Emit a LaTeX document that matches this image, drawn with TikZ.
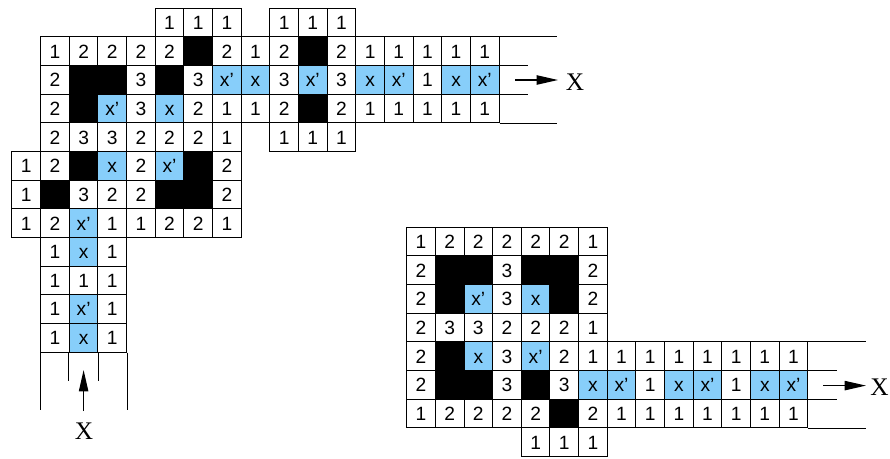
\documentclass[tikz,border=0pt]{standalone}
\usepackage{fontspec}
\setmainfont{Liberation Sans}
\newfontfamily\serifX{Liberation Serif}
\usetikzlibrary{arrows.meta}
\definecolor{cellblue}{RGB}{135,206,250}
\begin{document}
\begin{tikzpicture}[x=0.75pt,y=-0.75pt,
  cellbase/.style={draw=black, line width=0.75pt, minimum width=21.49pt, minimum height=21.49pt,
    inner sep=0pt, text height=10.3pt, text depth=0pt, font=\fontsize{14.4}{15}\selectfont},
  num/.style={cellbase, fill=white},
  blk/.style={cellbase, fill=black},
  blu/.style={cellbase, fill=cellblue},
  tail/.style={line width=0.75pt},
  arr/.style={line width=0.9pt, -{Triangle[length=16pt,width=7pt]}},
  lab/.style={font=\serifX\fontsize{19}{20}\selectfont, inner sep=0pt, text height=12.6pt, text depth=0pt}]
\useasboundingbox (0,0) rectangle (890,458);
% ---------- left figure ----------
\foreach \r/\c/\t in {0/5/1,0/6/1,0/7/1,0/9/1,0/10/1,0/11/1,
  1/1/1,1/2/2,1/3/2,1/4/2,1/5/2,1/7/2,1/8/1,1/9/2,1/11/2,1/12/1,1/13/1,1/14/1,1/15/1,1/16/1,
  2/1/2,2/4/3,2/6/3,2/9/3,2/11/3,2/14/1,
  3/1/2,3/4/3,3/6/2,3/7/1,3/8/1,3/9/2,3/11/2,3/12/1,3/13/1,3/14/1,3/15/1,3/16/1,
  4/1/2,4/2/3,4/3/3,4/4/2,4/5/2,4/6/2,4/7/1,4/9/1,4/10/1,4/11/1,
  5/0/1,5/1/2,5/4/2,5/7/2,
  6/0/1,6/2/3,6/3/2,6/4/2,6/7/2,
  7/0/1,7/1/2,7/3/1,7/4/1,7/5/2,7/6/2,7/7/1,
  8/1/1,8/3/1,9/1/1,9/2/1,9/3/1,10/1/1,10/3/1,11/1/1,11/3/1}
  \node[num] (L-\r-\c) at ({12+28.65*(\c+0.5)},{8.3+28.65*(\r+0.5)}) {\t};
\foreach \r/\c in {1/6,1/10,2/2,2/3,2/5,3/2,3/10,5/2,5/6,6/1,6/5,6/6}
  \node[blk] (L-\r-\c) at ({12+28.65*(\c+0.5)},{8.3+28.65*(\r+0.5)}) {};
\foreach \r/\c/\t in {2/7/x’,2/8/x,2/10/x’,2/12/x,2/13/x’,2/15/x,2/16/x’,3/3/x’,3/5/x,
  5/3/x,5/5/x’,7/2/x’,8/2/x,10/2/x’,11/2/x}
  \node[blu] (L-\r-\c) at ({12+28.65*(\c+0.5)},{8.3+28.65*(\r+0.5)}) {\t};
% tails
\draw[tail] (L-1-16.north east) -- ++(57.3,0);
\draw[tail] (L-2-16.north east) -- ++(28.65,0);
\draw[tail] (L-2-16.south east) -- ++(28.65,0);
\draw[tail] (L-3-16.south east) -- ++(57.3,0);
\draw[tail] (L-11-1.south west) -- ++(0,57.3);
\draw[tail] (L-11-2.south west) -- ++(0,28.65);
\draw[tail] (L-11-2.south east) -- ++(0,28.65);
\draw[tail] (L-11-3.south east) -- ++(0,57.3);
% arrows
\coordinate (a1s) at (515,80);
\coordinate (a1e) at (558,80);
\draw[arr] (a1s) -- (a1e);
\node[lab] (X1) at (575,82) {X};
\coordinate (a2s) at (83.6,411);
\coordinate (a2e) at (83.6,370);
\draw[arr] (a2s) -- (a2e);
\node[lab] (X2) at (84,431.5) {X};
% ---------- right figure ----------
\foreach \r/\c/\t in {0/0/1,0/1/2,0/2/2,0/3/2,0/4/2,0/5/2,0/6/1,
  1/0/2,1/3/3,1/6/2,
  2/0/2,2/3/3,2/6/2,
  3/0/2,3/1/3,3/2/3,3/3/2,3/4/2,3/5/2,3/6/1,
  4/0/2,4/3/3,4/5/2,4/6/1,4/7/1,4/8/1,4/9/1,4/10/1,4/11/1,4/12/1,4/13/1,
  5/0/2,5/3/3,5/5/3,5/8/1,5/11/1,
  6/0/1,6/1/2,6/2/2,6/3/2,6/4/2,6/6/2,6/7/1,6/8/1,6/9/1,6/10/1,6/11/1,6/12/1,6/13/1,
  7/4/1,7/5/1,7/6/1}
  \node[num] (R-\r-\c) at ({406.7+28.65*(\c+0.5)},{227.3+28.65*(\r+0.5)}) {\t};
\foreach \r/\c in {1/1,1/2,1/4,1/5,2/1,2/5,4/1,5/1,5/2,5/4,6/5}
  \node[blk] (R-\r-\c) at ({406.7+28.65*(\c+0.5)},{227.3+28.65*(\r+0.5)}) {};
\foreach \r/\c/\t in {2/2/x’,2/4/x,4/2/x,4/4/x’,5/6/x,5/7/x’,5/9/x,5/10/x’,5/12/x,5/13/x’}
  \node[blu] (R-\r-\c) at ({406.7+28.65*(\c+0.5)},{227.3+28.65*(\r+0.5)}) {\t};
\draw[tail] (R-4-13.north east) -- ++(57.3,0);
\draw[tail] (R-5-13.north east) -- ++(28.65,0);
\draw[tail] (R-5-13.south east) -- ++(28.65,0);
\draw[tail] (R-6-13.south east) -- ++(57.3,0);
\coordinate (a3s) at (823,385.6);
\coordinate (a3e) at (866,385.6);
\draw[arr] (a3s) -- (a3e);
\node[lab] (X3) at (879.5,387) {X};
\end{tikzpicture}
\end{document}
